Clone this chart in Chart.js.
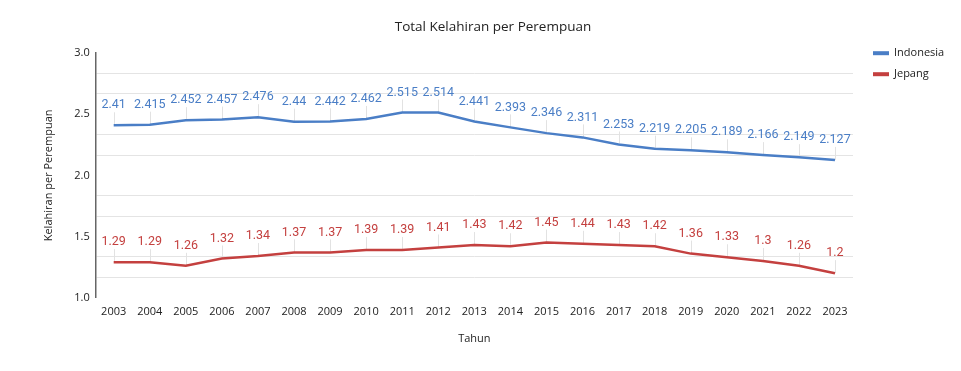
<!DOCTYPE html>
<html>
<head>
<meta charset="utf-8">
<script src="https://cdn.jsdelivr.net/npm/chart.js@4"></script>
<style>
  html, body { margin: 0; padding: 0; background: #ffffff; }
  #wrap { width: 961px; height: 371px; }
</style>
</head>
<body>
<div id="wrap"><canvas id="c" width="961" height="371"></canvas></div>
<script>
const years = ['2003','2004','2005','2006','2007','2008','2009','2010','2011','2012','2013','2014','2015','2016','2017','2018','2019','2020','2021','2022','2023'];
const indonesia = [2.41,2.415,2.452,2.457,2.476,2.44,2.442,2.462,2.515,2.514,2.441,2.393,2.346,2.311,2.253,2.219,2.205,2.189,2.166,2.149,2.127];
const jepang = [1.29,1.29,1.26,1.32,1.34,1.37,1.37,1.39,1.39,1.41,1.43,1.42,1.45,1.44,1.43,1.42,1.36,1.33,1.3,1.26,1.2];
const yTickValues = [1.0, 1.1667, 1.3333, 1.5, 1.6667, 1.8333, 2.0, 2.1667, 2.3333, 2.5, 2.6667, 2.8333, 3.0];
const yTickLabels = ['1.0', '1.5', '2.0', '2.5', '3.0'];
const chartTitle = 'Total Kelahiran per Perempuan';

const BLUE = '#4a7ec6';
const RED = '#c4403f';
const FONT = "'Open Sans', 'Noto Sans', sans-serif";

function isMajor(v) { return Math.abs(v * 2 - Math.round(v * 2)) < 1e-3; }

const labelPlugin = {
  id: 'pointLabels',
  beforeDatasetsDraw(chart) {
    const ctx = chart.ctx;
    ctx.save();
    ctx.strokeStyle = '#e2e2e2';
    ctx.lineWidth = 1;
    chart.data.datasets.forEach((ds, i) => {
      const meta = chart.getDatasetMeta(i);
      meta.data.forEach(pt => {
        ctx.beginPath();
        ctx.moveTo(Math.round(pt.x) + 0.5, pt.y);
        ctx.lineTo(Math.round(pt.x) + 0.5, pt.y - 13);
        ctx.stroke();
      });
    });
    ctx.restore();
  },
  afterDatasetsDraw(chart) {
    const ctx = chart.ctx;
    ctx.save();
    ctx.font = "12.5px Roboto, 'Open Sans', sans-serif";
    ctx.textAlign = 'center';
    ctx.textBaseline = 'middle';
    chart.data.datasets.forEach((ds, i) => {
      const meta = chart.getDatasetMeta(i);
      ctx.fillStyle = ds.borderColor;
      meta.data.forEach((pt, j) => {
        ctx.fillText(String(ds.data[j]), pt.x, pt.y - 20);
      });
    });
    ctx.restore();
  },
  afterDraw(chart) {
    const ctx = chart.ctx;
    const area = chart.chartArea;
    ctx.save();
    // title
    ctx.font = "13.5px " + FONT;
    ctx.textAlign = 'center';
    ctx.textBaseline = 'middle';
    ctx.fillStyle = '#222';
    ctx.fillText(chartTitle, 493, 27);
    // legend
    ctx.font = "11px " + FONT;
    ctx.textAlign = 'left';
    chart.data.datasets.forEach((ds, i) => {
      const y = area.top + i * 21;
      const x = area.right + 20;
      ctx.fillStyle = ds.borderColor;
      ctx.fillRect(x, y - 2, 16, 4);
      ctx.fillStyle = '#222';
      ctx.fillText(ds.label, x + 21, y);
    });
    ctx.restore();
  }
};

new Chart(document.getElementById('c'), {
  type: 'line',
  data: {
    labels: years,
    datasets: [
      { label: 'Indonesia', data: indonesia, borderColor: BLUE, backgroundColor: BLUE, borderWidth: 2.5, pointRadius: 0, tension: 0 },
      { label: 'Jepang', data: jepang, borderColor: RED, backgroundColor: RED, borderWidth: 2.5, pointRadius: 0, tension: 0 }
    ]
  },
  options: {
    responsive: false,
    animation: false,
    layout: { padding: { left: 38, right: 108, top: 0, bottom: 22 } },
    plugins: {
      title: {
        display: true,
        text: chartTitle,
        color: 'rgba(0,0,0,0)',
        font: { family: FONT, size: 13.5, weight: 'normal' },
        padding: { top: 18, bottom: 19 }
      },
      legend: { display: false },
      tooltip: { enabled: false }
    },
    scales: {
      x: {
        offset: true,
        grid: { display: false },
        border: { display: false },
        ticks: { color: '#222', font: { family: FONT, size: 11 }, padding: 0, maxRotation: 0, autoSkip: false },
        title: { display: true, text: 'Tahun', color: '#222', font: { family: FONT, size: 11 }, padding: { top: 13 } }
      },
      y: {
        min: 1,
        max: 3,
        afterBuildTicks(axis) { axis.ticks = yTickValues.map(v => ({ value: v })); },
        grid: {
          color: ctx => (ctx.tick && isMajor(ctx.tick.value)) ? 'rgba(0,0,0,0)' : '#e4e4e4',
          drawTicks: false
        },
        border: { display: true, color: '#666', width: 1.5 },
        ticks: {
          color: '#222',
          font: { family: FONT, size: 11 },
          padding: 6,
          callback: v => {
            if (!isMajor(v)) return '';
            const s = v.toFixed(1);
            return yTickLabels.includes(s) ? s : '';
          }
        },
        title: { display: true, text: 'Kelahiran per Perempuan', color: '#222', font: { family: FONT, size: 11 }, padding: { bottom: 13 } }
      }
    }
  },
  plugins: [labelPlugin]
});
</script>
</body>
</html>
